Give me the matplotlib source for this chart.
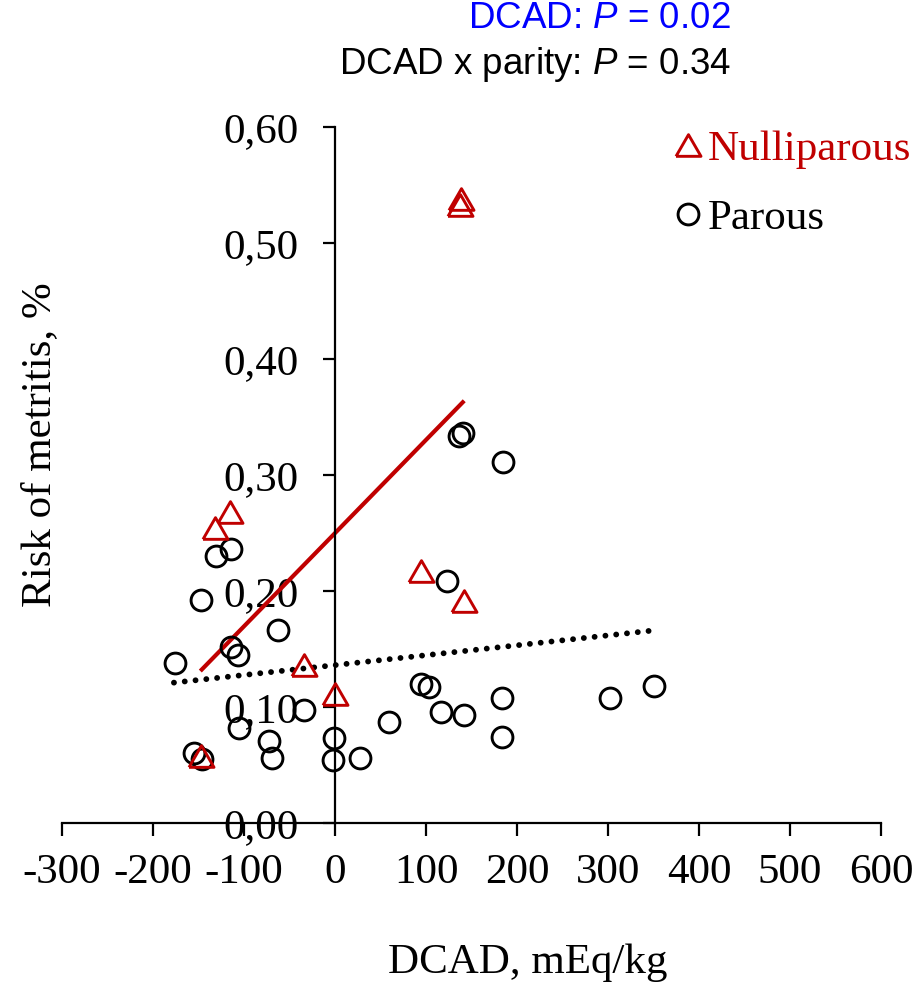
import matplotlib
matplotlib.use("Agg")
import matplotlib.pyplot as plt
from matplotlib.lines import Line2D
from matplotlib.ticker import FixedLocator, FuncFormatter

# Nulliparous cows (triangles): DCAD (mEq/kg) and risk of metritis
nulli_dcad = [138, 137, -115, -132, 94, 142, -34, 0, -147]
nulli_risk = [0.538, 0.533, 0.268, 0.254, 0.217, 0.191, 0.136, 0.111, 0.058]

# Parous cows (circles)
parous_dcad = [136, 141, 185, -114, -131, 123, -147, -63, -114, -107, -176,
               94, 103, 351, 183, 302, -34, 117, 142, 59, -106, 183, -73,
               -1, -155, -146, -69, -2, 28]
parous_risk = [0.334, 0.336, 0.311, 0.236, 0.230, 0.209, 0.192, 0.166, 0.152,
               0.145, 0.138, 0.120, 0.117, 0.118, 0.108, 0.108, 0.097, 0.096,
               0.093, 0.087, 0.082, 0.074, 0.071, 0.073, 0.060, 0.055, 0.056,
               0.054, 0.056]

# Fitted regression lines (end points)
nulli_fit_x = [-148, 142]
nulli_fit_y = [0.131, 0.364]
parous_fit_x = [-177, 350]
parous_fit_y = [0.121, 0.166]

x_ticks = [-300, -200, -100, 0, 100, 200, 300, 400, 500, 600]
y_ticks = [0.0, 0.1, 0.2, 0.3, 0.4, 0.5, 0.6]

RED = "#C00000"
SERIF = ["Liberation Serif", "DejaVu Serif"]
SANS = ["Liberation Sans", "DejaVu Sans"]

plt.rcParams["mathtext.fontset"] = "custom"
plt.rcParams["mathtext.rm"] = "Liberation Sans"
plt.rcParams["mathtext.it"] = "Liberation Sans:italic"

fig = plt.figure(figsize=(9.19, 9.85), dpi=100)
ax = fig.add_axes([62 / 919, 1 - 823 / 985, (881 - 62) / 919, (823 - 127) / 985])

ax.set_xlim(-300, 600)
ax.set_ylim(0, 0.6)

# Axes cross at the origin
ax.spines["left"].set_position(("data", 0))
ax.spines["bottom"].set_position(("data", 0))
ax.spines["top"].set_visible(False)
ax.spines["right"].set_visible(False)
for s in ("left", "bottom"):
    ax.spines[s].set_linewidth(1.6)

ax.xaxis.set_major_locator(FixedLocator(x_ticks))
ax.yaxis.set_major_locator(FixedLocator(y_ticks))
ax.yaxis.set_major_formatter(FuncFormatter(lambda v, p: f"{v:.2f}".replace(".", ",")))
ax.xaxis.set_major_formatter(FuncFormatter(lambda v, p: f"{v:.0f}"))
ax.tick_params(axis="both", direction="out", length=9, width=1.6,
               labelsize=31)
ax.tick_params(axis="y", pad=17)
ax.tick_params(axis="x", pad=13)
for lab in ax.get_xticklabels() + ax.get_yticklabels():
    lab.set_family(SERIF)

# Regression lines
ax.plot(nulli_fit_x, nulli_fit_y, color=RED, lw=3.0, solid_capstyle="butt", zorder=2)
ax.plot(parous_fit_x, parous_fit_y, color="black", lw=4.2,
        linestyle=(0, (0.01, 1.85)), dash_capstyle="round", zorder=2)

# Triangle marker (equilateral)
tri = [(-1, -0.866), (1, -0.866), (0, 0.866), (-1, -0.866)]

ax.plot(parous_dcad, parous_risk, linestyle="none", marker="o", ms=15,
        mfc="none", mec="black", mew=2.1, zorder=3, clip_on=False)
ax.plot(nulli_dcad, nulli_risk, linestyle="none", marker=tri, ms=18,
        mfc="none", mec=RED, mew=2.1, zorder=3, clip_on=False)

# Legend
handles = [Line2D([], [], linestyle="none", marker=tri, ms=18, mfc="none", mec=RED, mew=2.1),
           Line2D([], [], linestyle="none", marker="o", ms=15, mfc="none", mec="black", mew=2.1)]
ax.legend(handles, ["Nulliparous", "Parous"], loc="upper left",
          bbox_to_anchor=(0.727, 1.02), frameon=False, handlelength=0.6,
          handletextpad=0.18, labelspacing=0.68, borderaxespad=0,
          labelcolor="markeredgecolor", prop={"family": SERIF, "size": 31})

# Axis titles
fig.text(40 / 919, 1 - 445 / 985, "Risk of metritis, %", rotation=90,
         ha="center", va="center", fontsize=31, family=SERIF)
fig.text(528 / 919, 1 - 963 / 985, "DCAD, mEq/kg", ha="center", va="center",
         fontsize=31, family=SERIF)

# Significance annotations
fig.text(731 / 919, 1 - 18 / 985, "DCAD: $P$ = 0.02", ha="right", va="center",
         fontsize=26.5, family=SANS, color="#0000FF")
fig.text(731 / 919, 1 - 65 / 985, "DCAD x parity: $P$ = 0.34", ha="right",
         va="center", fontsize=26.5, family=SANS, color="black")

fig.savefig("out.png", dpi=100)
